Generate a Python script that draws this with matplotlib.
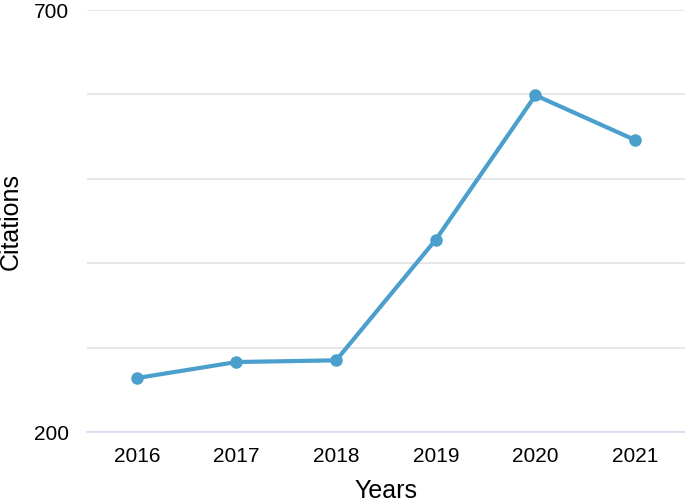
import matplotlib.pyplot as plt

# citations per year
years = ['2016', '2017', '2018', '2019', '2020', '2021']
citations = [264, 283, 285, 428, 599, 546]

plt.rcParams['font.family'] = ['Liberation Sans', 'DejaVu Sans']

fig = plt.figure(figsize=(6.85, 5.03), dpi=100)
ax = fig.add_axes([0.127, 0.141, 0.873, 0.839])

ax.plot(range(len(years)), citations, color='#4a9fcc', linewidth=3,
        marker='o', markersize=8, zorder=3)

ax.set_xlim(-0.5, len(years) - 0.5)
ax.set_ylim(200, 700)
ax.set_yticks([200, 300, 400, 500, 600, 700])
ax.set_yticklabels(['200', '', '', '', '', '700'])
ax.set_xticks(range(len(years)))
ax.set_xticklabels(years)

ax.grid(axis='y', color='#e3e3e3', linewidth=1.2)
ax.set_axisbelow(True)
for s in ['top', 'right', 'left']:
    ax.spines[s].set_visible(False)
ax.spines['bottom'].set_color('#d6dcf0')
ax.spines['bottom'].set_linewidth(1.2)
ax.tick_params(length=0, labelsize=15, pad=11)
ax.tick_params(axis='y', pad=13)

ax.set_xlabel('Years', fontsize=18, labelpad=9)
ax.set_ylabel('Citations', fontsize=18)
ax.yaxis.set_label_coords(-0.107, 0.5)

fig.savefig('out.png', dpi=100)
